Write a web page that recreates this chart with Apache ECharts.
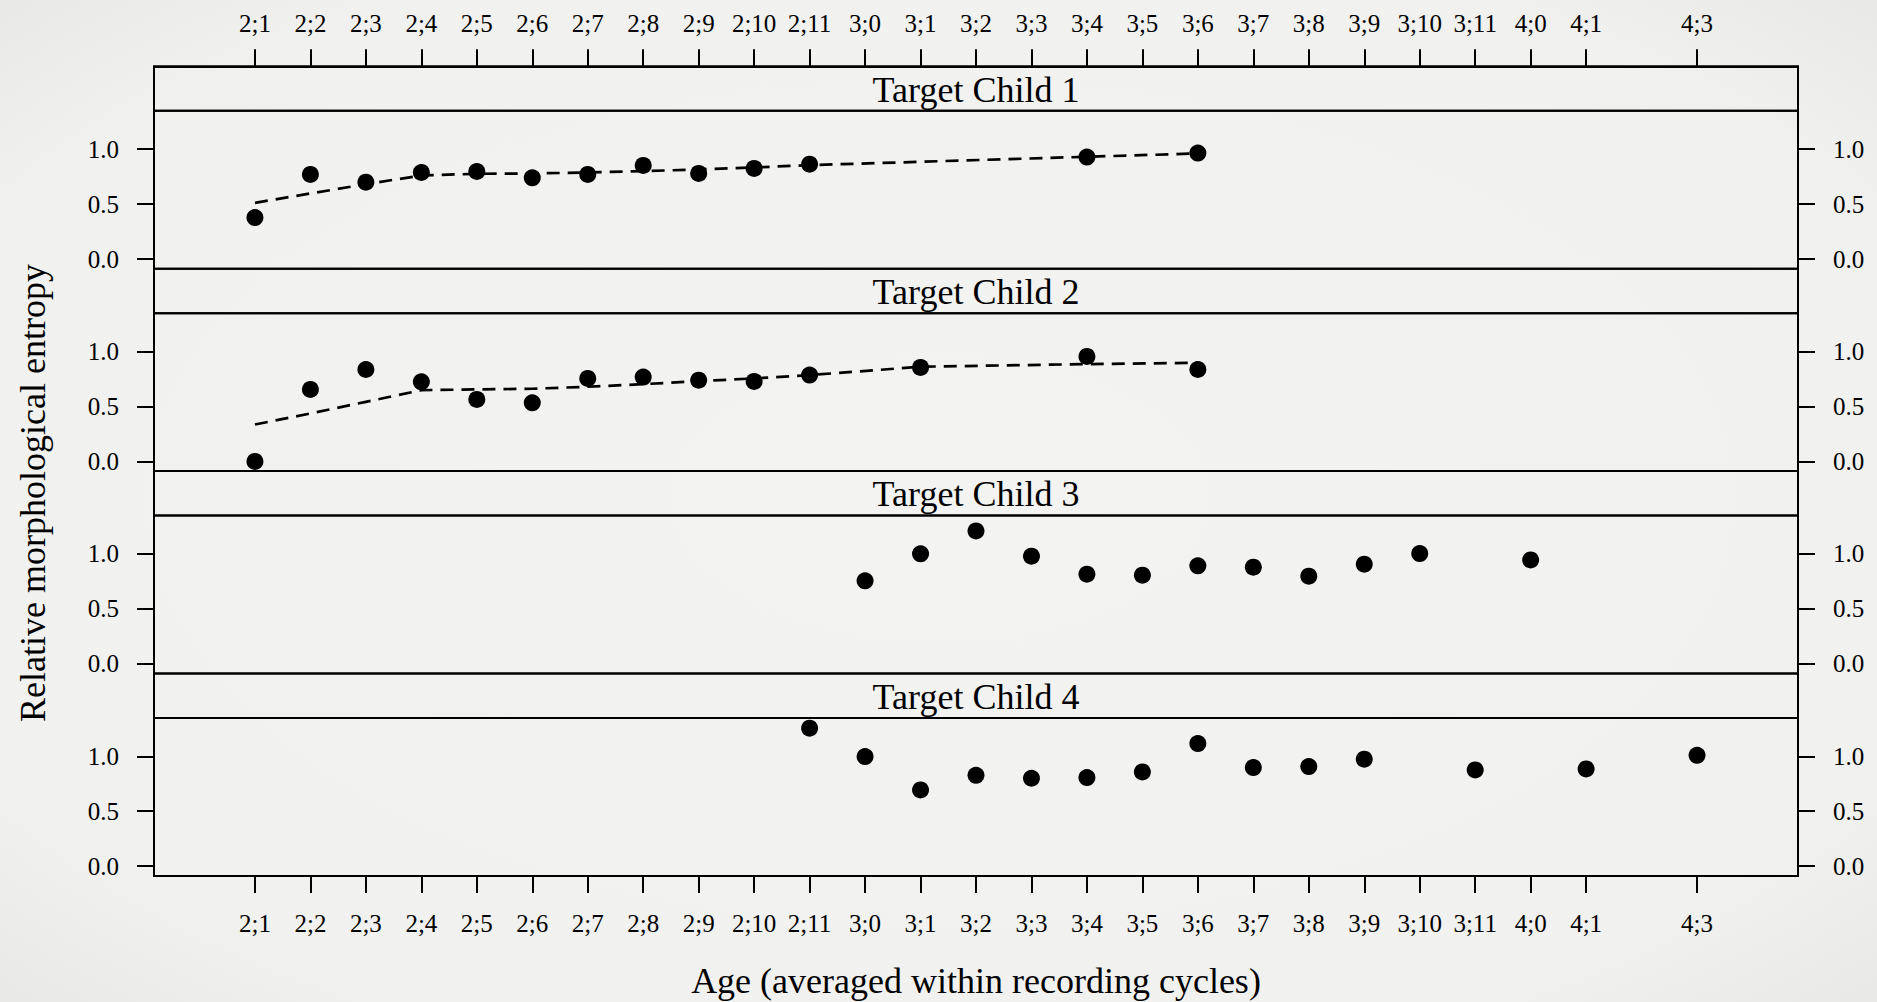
<!DOCTYPE html>
<html>
<head>
<meta charset="utf-8">
<script src="https://cdn.jsdelivr.net/npm/echarts@6/dist/echarts.min.js"></script>
<style>
html,body{margin:0;padding:0;background:#f1f1ef;}
#chart{width:1877px;height:1002px;}
</style>
</head>
<body>
<div id="chart"></div>
<script>
// ---------- data ----------
const tickLabels = ['2;1','2;2','2;3','2;4','2;5','2;6','2;7','2;8','2;9','2;10','2;11',
  '3;0','3;1','3;2','3;3','3;4','3;5','3;6','3;7','3;8','3;9','3;10','3;11','4;0','4;1','4;3'];
const yTickValues = [0, 0.5, 1.0];
const panelTitles = ['Target Child 1','Target Child 2','Target Child 3','Target Child 4'];
const xTitle = 'Age (averaged within recording cycles)';
const yTitle = 'Relative morphological entropy';

const child1Ages   = ['2;1','2;2','2;3','2;4','2;5','2;6','2;7','2;8','2;9','2;10','2;11','3;4','3;6'];
const child1Values = [0.377,0.769,0.699,0.787,0.796,0.739,0.769,0.851,0.778,0.824,0.863,0.927,0.964];
const child1Fit    = [0.511,0.596,0.681,0.760,0.775,0.778,0.787,0.799,0.815,0.833,0.854,0.930,0.960];

const child2Ages   = ['2;1','2;2','2;3','2;4','2;5','2;6','2;7','2;8','2;9','2;10','2;11','3;1','3;4','3;6'];
const child2Values = [0.0,0.655,0.836,0.724,0.564,0.533,0.755,0.767,0.739,0.727,0.785,0.855,0.955,0.836];
const child2Fit    = [0.336,0.436,0.542,0.648,0.655,0.661,0.679,0.703,0.730,0.755,0.785,0.861,0.885,0.897];

const child3Ages   = ['3;0','3;1','3;2','3;3','3;4','3;5','3;6','3;7','3;8','3;9','3;10','4;0'];
const child3Values = [0.755,1.0,1.209,0.979,0.815,0.806,0.891,0.879,0.797,0.906,1.003,0.945];

const child4Ages   = ['2;11','3;0','3;1','3;2','3;3','3;4','3;5','3;6','3;7','3;8','3;9','3;11','4;1','4;3'];
const child4Values = [1.255,0.997,0.694,0.827,0.8,0.806,0.858,1.115,0.897,0.906,0.973,0.876,0.885,1.009];

// ---------- helpers ----------
const toMonths = s => { const p = s.split(';').map(Number); return p[0]*12 + p[1]; };
const pairs = (ages, vals) => ages.map((a, i) => [toMonths(a), vals[i]]);
const tickMonths = tickLabels.map(toMonths);
const monthLabel = m => Math.floor(m/12) + ';' + (m % 12);

const xLo = Math.min(...tickMonths), xHi = Math.max(...tickMonths);
const xPad = (xHi - xLo) * 0.07;
const yMin = -0.088, yMax = 1.348;

const FONT = '"Liberation Serif", "Times New Roman", serif';
const LEFT = 154, RIGHT = 79, W = 1877;
const top0 = 66.3, stripH = 44.5, dataH = 157.9, period = 202.4;

const grids = [], xAxes = [], yAxes = [], series = [], graphics = [];
const scatterData = [pairs(child1Ages, child1Values), pairs(child2Ages, child2Values),
                     pairs(child3Ages, child3Values), pairs(child4Ages, child4Values)];
const fitData = [pairs(child1Ages, child1Fit), pairs(child2Ages, child2Fit), null, null];

const blackLine = {color: '#000', width: 2};
const hiddenAxis = {axisLine: {show: false, onZero: false}, axisTick: {show: false}, axisLabel: {show: false}, splitLine: {show: false}};

// data panels: grids 0..3
for (let i = 0; i < 4; i++) {
  const stripTop = top0 + i * period;
  grids.push({left: LEFT, right: RIGHT, top: stripTop + stripH, height: dataH,
    show: true, borderColor: '#000', borderWidth: 2, backgroundColor: 'transparent',
    outerBoundsMode: 'none', containLabel: false});
  const isBottom = i === 3;
  xAxes.push(Object.assign({
    type: 'value', gridIndex: i, min: xLo - xPad, max: xHi + xPad, position: 'bottom'
  }, isBottom ? {
    axisLine: {show: true, onZero: false, lineStyle: blackLine},
    axisTick: {show: true, customValues: tickMonths, length: 17, inside: false, lineStyle: blackLine},
    axisLabel: {show: true, customValues: tickMonths, formatter: v => monthLabel(v),
      fontFamily: FONT, fontSize: 25, color: '#000', margin: 35},
    splitLine: {show: false}
  } : hiddenAxis));
  ['left', 'right'].forEach(pos => {
    yAxes.push({
      type: 'value', gridIndex: i, position: pos, min: yMin, max: yMax,
      axisLine: {show: true, onZero: false, lineStyle: blackLine},
      axisTick: {show: true, customValues: yTickValues, length: 17, lineStyle: blackLine},
      axisLabel: {show: true, customValues: yTickValues, formatter: v => v.toFixed(1),
        fontFamily: FONT, fontSize: 25, color: '#000', margin: 35},
      splitLine: {show: false}
    });
  });
  series.push({
    type: 'scatter', xAxisIndex: i, yAxisIndex: i * 2, data: scatterData[i],
    symbol: 'circle', symbolSize: 17, itemStyle: {color: '#000', opacity: 1}, silent: true, z: 3
  });
  if (fitData[i]) {
    series.push({
      type: 'line', xAxisIndex: i, yAxisIndex: i * 2, data: fitData[i],
      showSymbol: false, symbol: 'none', smooth: false,
      lineStyle: {color: '#000', width: 2.7, type: [13, 8]}, silent: true, z: 2
    });
  }
}
// strip panels: grids 4..7 (the first one carries the top axis)
for (let i = 0; i < 4; i++) {
  const stripTop = top0 + i * period;
  grids.push({left: LEFT, right: RIGHT, top: stripTop, height: stripH,
    show: true, borderColor: '#000', borderWidth: 2, backgroundColor: 'transparent',
    outerBoundsMode: 'none', containLabel: false});
  const isTop = i === 0;
  xAxes.push(Object.assign({
    type: 'value', gridIndex: 4 + i, min: xLo - xPad, max: xHi + xPad, position: 'top'
  }, isTop ? {
    axisLine: {show: true, onZero: false, lineStyle: blackLine},
    axisTick: {show: true, customValues: tickMonths, length: 17, inside: false, lineStyle: blackLine},
    axisLabel: {show: true, customValues: tickMonths, formatter: v => monthLabel(v),
      fontFamily: FONT, fontSize: 25, color: '#000', margin: 30},
    splitLine: {show: false}
  } : hiddenAxis));
  yAxes.push(Object.assign({type: 'value', gridIndex: 4 + i, min: 0, max: 1}, hiddenAxis));
  graphics.push({type: 'text', silent: true, x: (LEFT + W - RIGHT) / 2, y: stripTop + stripH / 2 + 1,
    style: {text: panelTitles[i], font: '36px ' + FONT, fill: '#000',
      textAlign: 'center', textVerticalAlign: 'middle'}});
}
graphics.push({type: 'text', silent: true, x: 33, y: 493, rotation: Math.PI / 2,
  style: {text: yTitle, font: '36px ' + FONT, fill: '#000',
    textAlign: 'center', textVerticalAlign: 'middle'}});
graphics.push({type: 'text', silent: true, x: (LEFT + W - RIGHT) / 2, y: 981,
  style: {text: xTitle, font: '36px ' + FONT, fill: '#000',
    textAlign: 'center', textVerticalAlign: 'middle'}});

const chart = echarts.init(document.getElementById('chart'), null, {renderer: 'svg'});
chart.setOption({
  backgroundColor: {type: 'radial', x: 0.5, y: 0.5, r: 0.75,
    colorStops: [{offset: 0, color: '#f3f3f1'}, {offset: 0.75, color: '#f1f1ef'}, {offset: 1, color: '#e6e6e4'}]},
  animation: false,
  textStyle: {fontFamily: FONT},
  grid: grids, xAxis: xAxes, yAxis: yAxes, series: series, graphic: graphics
});
</script>
</body>
</html>
